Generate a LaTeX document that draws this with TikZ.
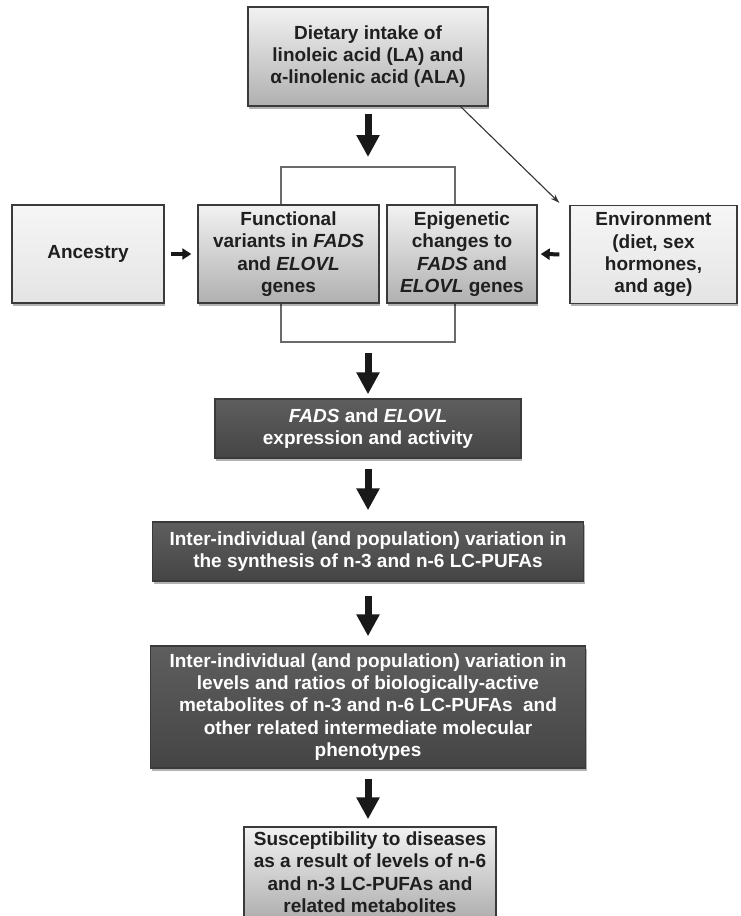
\documentclass[tikz,border=0pt]{standalone}
\usepackage{fontspec}
\setmainfont{Liberation Sans}
\usetikzlibrary{arrows.meta,shadows,calc}
\definecolor{boxline}{HTML}{3A3A3A}
\definecolor{lgtop}{HTML}{F2F2F2}
\definecolor{lgbot}{HTML}{B0B0B0}
\definecolor{pltop}{HTML}{F6F6F6}
\definecolor{plbot}{HTML}{E4E4E4}
\definecolor{dktop}{HTML}{5E5E5E}
\definecolor{dkbot}{HTML}{454545}
\definecolor{brk}{HTML}{6A6A6A}
\tikzset{
  box/.style={draw=boxline, line width=1.4pt, align=center, inner sep=1pt,
    font=\fontsize{19}{22.4}\selectfont\bfseries, text=black!88,
    drop shadow={shadow xshift=1.2pt, shadow yshift=-2.6pt, opacity=0.3, fill=black}},
  gradbox/.style={box, top color=lgtop, bottom color=lgbot},
  palebox/.style={box, top color=pltop, bottom color=plbot},
  darkbox/.style={box, top color=dktop, bottom color=dkbot, text=white},
  bigarrow/.style={line width=7pt, -{Triangle[width=22pt,length=22pt]}, black!90},
  smallarrow/.style={line width=4pt, -{Triangle[width=11pt,length=9pt]}, black!90},
  thinarrow/.style={line width=1.1pt, -{Stealth[width=6pt,length=9pt]}, black!80},
  bracket/.style={draw=brk, line width=1.2pt}
}
\begin{document}
\begin{tikzpicture}[x=1pt,y=-1pt]
\useasboundingbox (0,0) rectangle (740,916);
\fill[white] (0,0) rectangle (740,916);

% bracket behind the two gene boxes
\coordinate (brTL) at (281,167);
\coordinate (brBR) at (455,342);
\coordinate (brT) at (368,167);
\coordinate (brB) at (368,342);
\draw[bracket] (brTL) rectangle (brBR);

\node[gradbox, minimum width=240pt, minimum height=99pt] (diet) at (368,56.5)
  {Dietary intake of\\linoleic acid (LA) and\\α-linolenic acid (ALA)};
\node[palebox, minimum width=152pt, minimum height=98pt] (anc) at (88,254) {Ancestry};
\node[gradbox, minimum width=181pt, minimum height=98pt] (func) at (288.5,254)
  {Functional\\variants in \textit{FADS}\\and \textit{ELOVL}\\genes};
\node[gradbox, minimum width=150pt, minimum height=98pt] (epi) at (462,254)
  {Epigenetic\\changes to\\\textit{FADS} and\\\textit{ELOVL} genes};
\node[palebox, minimum width=167pt, minimum height=98pt] (env) at (653.5,254.5)
  {Environment\\(diet, sex\\hormones,\\and age)};
\node[darkbox, minimum width=306pt, minimum height=59pt] (expr) at (368,428.5)
  {\textit{FADS} and \textit{ELOVL}\\expression and activity};
\node[darkbox, minimum width=431pt, minimum height=59pt] (synth) at (368,551.5)
  {Inter-individual (and population) variation in\\the synthesis of n-3 and n-6 LC-PUFAs};
\node[darkbox, minimum width=435pt, minimum height=122pt] (metab) at (368,707)
  {Inter-individual (and population) variation in\\levels and ratios of biologically-active\\metabolites of n-3 and n-6 LC-PUFAs\ \ and\\other related intermediate molecular\\phenotypes};
\node[gradbox, minimum width=252pt, minimum height=90pt] (susc) at (370,872)
  {Susceptibility to diseases\\as a result of levels of n-6\\and n-3 LC-PUFAs and\\related metabolites};

% arrows
\draw[bigarrow, shorten <=7pt, shorten >=10pt] (diet.south) -- (brT);
\draw[bigarrow, shorten <=11pt, shorten >=4pt] (brB) -- (expr.north);
\draw[bigarrow, shorten <=10pt, shorten >=11pt] (expr.south) -- (synth.north);
\draw[bigarrow, shorten <=14pt, shorten >=9pt] (synth.south) -- (metab.north);
\draw[bigarrow, shorten <=10pt, shorten >=7pt] (metab.south) -- (metab.south |- susc.north);
\draw[smallarrow, shorten <=6pt, shorten >=6pt] (anc.east) -- (func.west);
\draw[smallarrow, shorten <=10pt, shorten >=3pt] (env.west) -- (epi.east);
\coordinate (envin) at ($(env.north west)+(-10,-2)$);
\draw[thinarrow] ($(diet.south east)+(-28,0)$) -- (envin);
\end{tikzpicture}
\end{document}
